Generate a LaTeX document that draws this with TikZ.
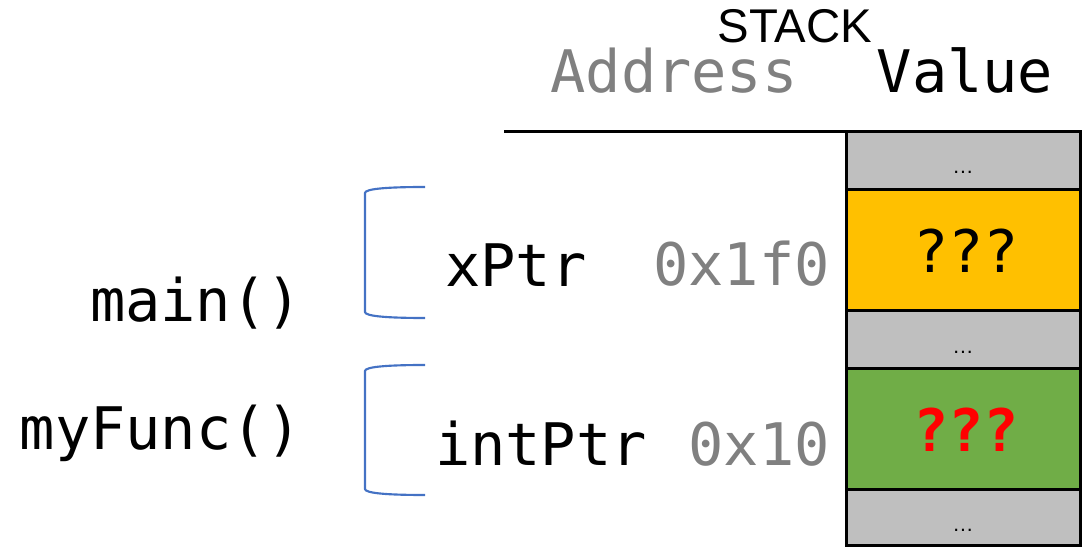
\documentclass[tikz,border=0pt]{standalone}
\usepackage{fontspec}
\setmonofont{DejaVu Sans Mono}
\newfontfamily\arialf{Liberation Sans}
\definecolor{cellgray}{HTML}{BFBFBF}
\definecolor{cellyellow}{HTML}{FFC000}
\definecolor{cellgreen}{HTML}{70AD47}
\definecolor{braceblue}{HTML}{4472C4}
\definecolor{addrgray}{HTML}{808080}
\begin{document}
\begin{tikzpicture}[x=0.75pt,y=-0.75pt,
  mono/.style={font=\fontsize{44}{50}\selectfont\ttfamily, inner sep=0pt},
  addr/.style={mono, text=addrgray},
  cell/.style={draw=black, line width=2.25pt},
  dots/.style={font=\arialf\fontsize{16}{18}\selectfont, inner sep=0pt, anchor=base},
  brace/.style={draw=braceblue, line width=1.6pt}]
\useasboundingbox (0,0) rectangle (1082,548);
% header
\node[font=\arialf\fontsize{35.5}{40}\selectfont, inner sep=0pt, anchor=base] (stack) at (795,43) {STACK};
\node[addr, anchor=base] (addrh) at (674,93) {Address};
\node[mono, anchor=base] (valh) at (965,93) {Value};
\draw[line width=2.25pt] (504,132) -- (846,132);
% cells
\filldraw[cell, fill=cellgray] (846,132) rectangle (1080,190);
\filldraw[cell, fill=cellyellow] (846,190) rectangle (1080,311);
\filldraw[cell, fill=cellgray] (846,311) rectangle (1080,369);
\filldraw[cell, fill=cellgreen] (846,369) rectangle (1080,490);
\filldraw[cell, fill=cellgray] (846,490) rectangle (1080,546);
\node[dots] (d1) at (963,174) {…};
\node[dots] (d2) at (963,354) {…};
\node[dots] (d3) at (963,532) {…};
\node[mono, anchor=base] (q1) at (966,273) {???};
\node[mono, anchor=base, text=red, font=\fontsize{44}{50}\selectfont\ttfamily\bfseries] (q2) at (966,452) {???};
% variables
\node[mono, anchor=base] (xptr) at (516,287) {xPtr};
\node[addr, anchor=base east] (xaddr) at (830,286) {0x1f0};
\node[mono, anchor=base] (intptr) at (541,466) {intPtr};
\node[addr, anchor=base east] (iaddr) at (830,466) {0x10};
% functions
\node[mono, anchor=base] (mainf) at (196,322) {main()};
\node[mono, anchor=base] (myf) at (161,450) {myFunc()};
% brackets
\draw[brace] (425,187) .. controls (385,187) and (365,189) .. (365,193) -- (365,312) .. controls (365,316) and (385,318) .. (425,318);
\draw[brace] (425,365) .. controls (385,365) and (365,367) .. (365,371) -- (365,489) .. controls (365,493) and (385,495) .. (425,495);
\end{tikzpicture}
\end{document}
